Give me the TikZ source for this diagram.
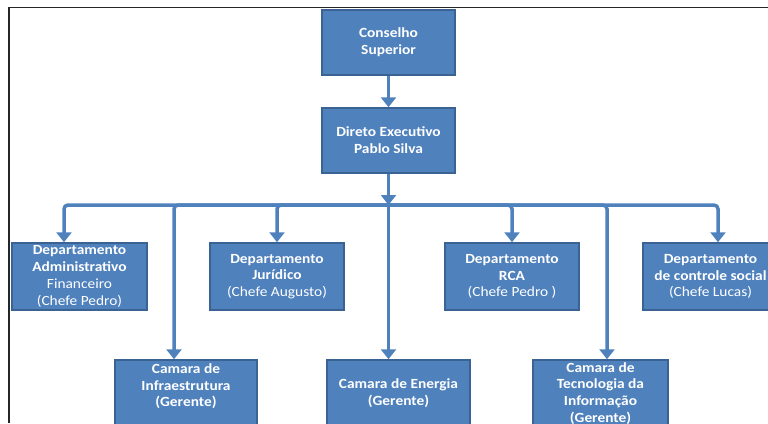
\documentclass[tikz,border=0pt]{standalone}
\usepackage{fontspec}
\setmainfont{Carlito}[FakeStretch=1.1]
\usetikzlibrary{arrows.meta}
\definecolor{boxfill}{HTML}{4F81BD}
\definecolor{boxborder}{HTML}{3A6394}
\definecolor{connc}{HTML}{4F81BD}
\tikzset{
  orgbox/.style={draw=boxborder, line width=1.5pt, fill=boxfill, text=white,
    align=center, inner sep=0pt, minimum height=#1,
    font=\fontsize{14}{16.8}\selectfont\bfseries},
  orgbox/.default=67pt,
  arr/.style={draw=connc, line width=3.5pt, rounded corners=4pt,
    -{Triangle[width=15pt,length=10pt]}},
  frameline/.style={draw=black!85, line width=1.8pt}
}
\begin{document}
\begin{tikzpicture}[x=1pt,y=-1pt]
\useasboundingbox (0,0) rectangle (768,423);
\clip (0,0) rectangle (768,423);
\draw[frameline] (9,423) -- (9,7.5) -- (768,7.5);

\node[orgbox=65pt, minimum width=133pt] (cons) at (388.5,42.5) {Conselho\\Superior};
\node[orgbox=65pt, minimum width=133pt] (dir) at (388.5,140.5) {Direto Executivo\\Pablo Silva};

\node[orgbox, minimum width=135pt] (admin) at (79.5,276.5)
  {Departamento\\Administrativo\\{\mdseries Financeiro}\\{\mdseries (Chefe Pedro)}};
\node[orgbox, minimum width=134pt] (jur) at (277,276.5)
  {Departamento\\Jurídico\\{\mdseries (Chefe Augusto)}};
\node[orgbox, minimum width=134pt] (rca) at (512,276.5)
  {Departamento\\RCA\\{\mdseries (Chefe Pedro )}};
\node[orgbox, minimum width=135pt] (soc) at (710.5,276.5)
  {Departamento\\de controle social\\{\mdseries (Chefe Lucas)}};

\node[orgbox, minimum width=142pt] (infra) at (186,393.5)
  {Camara de\\Infraestrutura\\(Gerente)\\\mbox{}};
\node[orgbox, minimum width=143pt] (ener) at (398.5,393.5)
  {Camara de Energia\\(Gerente)};
\node[orgbox, minimum width=135pt] (tec) at (600.5,393.5)
  {Camara de\\Tecnologia da\\Informação\\(Gerente)};

\coordinate (bus) at (388.5,205);

\draw[arr] (cons.south) -- (dir.north);
\draw[arr] (dir.south) -- (bus);
\draw[arr] (bus) -| ([xshift=-15.5pt]admin.north);
\draw[arr] (bus) -| ([xshift=-12pt]infra.north);
\draw[arr] (bus) -| (jur.north);
\draw[arr] (bus) -- (bus |- ener.north);
\draw[arr] (bus) -| (rca.north);
\draw[arr] (bus) -| ([xshift=6.5pt]tec.north);
\draw[arr] (bus) -| ([xshift=7.5pt]soc.north);
\end{tikzpicture}
\end{document}
